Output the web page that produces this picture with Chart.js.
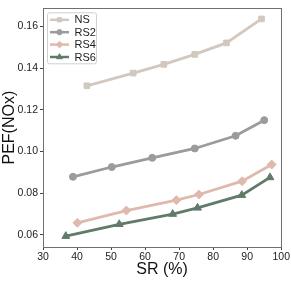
<!DOCTYPE html>
<html>
<head>
<meta charset="utf-8">
<script src="https://cdn.jsdelivr.net/npm/chart.js@4.4.1/dist/chart.umd.min.js"></script>
<style>
  html, body { margin: 0; padding: 0; background: #fff; }
  #wrap { width: 291px; height: 291px; }
</style>
</head>
<body>
<div id="wrap"><canvas id="myChart" width="291" height="291"></canvas></div>
<script>
'use strict';

// データ
const seriesNames = ['NS', 'RS2', 'RS4', 'RS6'];
const nsX  = [42.9, 56.5, 65.5, 74.6, 83.9, 94.2];
const nsY  = [0.1315, 0.1376, 0.1418, 0.1466, 0.1521, 0.1636];
const rs2X = [38.8, 50.2, 62.1, 74.6, 86.6, 95.0];
const rs2Y = [0.0878, 0.0925, 0.0969, 0.1014, 0.1075, 0.1150];
const rs4X = [40.1, 54.5, 69.2, 75.8, 88.5, 97.2];
const rs4Y = [0.0657, 0.0716, 0.0766, 0.0793, 0.0857, 0.0937];
const rs6X = [36.7, 52.4, 68.1, 75.4, 88.4, 96.7];
const rs6Y = [0.0593, 0.0650, 0.0699, 0.0729, 0.0790, 0.0875];
const xTicks = [30, 40, 50, 60, 70, 80, 90, 100];
const yTicks = [0.06, 0.08, 0.10, 0.12, 0.14, 0.16];

const colors = ['#d2c8be', '#9b9b9b', '#e0b9ae', '#617b6a'];
const shapes = ['rect', 'circle', 'rectRot', 'triangle'];
const radii  = [4, 3.5, 4.5, 4.5];

function pts(xs, ys) {
    return xs.map((x, i) => ({ x: x, y: ys[i] }));
}
const allData = [pts(nsX, nsY), pts(rs2X, rs2Y), pts(rs4X, rs4Y), pts(rs6X, rs6Y)];

const FONT = "'Liberation Sans', Arial, sans-serif";

// 枠線と凡例
const framePlugin = {
    id: 'frame',
    afterDraw(chart) {
        const ctx = chart.ctx;
        const a = chart.chartArea;
        ctx.save();
        ctx.strokeStyle = '#707070';
        ctx.lineWidth = 1;
        ctx.strokeRect(Math.round(a.left) + 0.5, Math.round(a.top) + 0.5,
            Math.round(a.right - a.left), Math.round(a.bottom - a.top));

        // legend box
        const lx = a.left + 4.5, ly = a.top + 4.5;
        ctx.strokeStyle = '#d0d0d0';
        ctx.fillStyle = 'rgba(255,255,255,0.85)';
        ctx.beginPath();
        ctx.roundRect(lx, ly, 49, 51, 2);
        ctx.fill();
        ctx.stroke();
        ctx.font = '11px ' + FONT;
        ctx.textBaseline = 'middle';
        seriesNames.forEach((name, i) => {
            const yy = ly + 7 + i * 12.4;
            ctx.strokeStyle = colors[i];
            ctx.lineWidth = 2.5;
            ctx.beginPath();
            ctx.moveTo(lx + 2.5, yy);
            ctx.lineTo(lx + 21.5, yy);
            ctx.stroke();
            ctx.fillStyle = colors[i];
            ctx.strokeStyle = colors[i];
            ctx.lineWidth = 1;
            Chart.helpers.drawPoint(ctx, { pointStyle: shapes[i], radius: radii[i] * 0.75, borderWidth: 1, rotation: 0 }, lx + 12, yy);
            ctx.fillStyle = '#222';
            ctx.fillText(name, lx + 27, yy + 0.5);
        });
        ctx.restore();
    }
};

const config = {
    type: 'line',
    data: {
        datasets: allData.map((d, i) => ({
            label: seriesNames[i],
            data: d,
            borderColor: colors[i],
            backgroundColor: colors[i],
            borderWidth: 2.8,
            pointStyle: shapes[i],
            pointRadius: radii[i],
            pointBorderWidth: 1,
            tension: 0,
            fill: false
        }))
    },
    options: {
        responsive: false,
        animation: false,
        layout: { padding: { top: 8, right: 9, left: 0, bottom: 0 } },
        plugins: {
            legend: { display: false },
            tooltip: { enabled: false }
        },
        scales: {
            x: {
                type: 'linear',
                min: 30,
                max: 100,
                afterFit: s => { s.height = 44; },
                afterBuildTicks: s => { s.ticks = xTicks.map(v => ({ value: v })); },
                grid: { drawOnChartArea: false, tickLength: 3, color: '#444' },
                border: { display: false },
                ticks: { color: '#222', font: { family: FONT, size: 10.5 }, padding: 1, maxRotation: 0 },
                title: { display: true, text: 'SR (%)', color: '#111', font: { family: FONT, size: 16 }, padding: 12 }
            },
            y: {
                type: 'linear',
                min: 0.0541,
                max: 0.1687,
                afterFit: s => { s.width = 43; },
                afterBuildTicks: s => { s.ticks = yTicks.map(v => ({ value: v })); },
                grid: { drawOnChartArea: false, tickLength: 3, color: '#444' },
                border: { display: false },
                ticks: { color: '#222', font: { family: FONT, size: 10.5 }, padding: 2, callback: v => v.toFixed(2) },
                title: { display: true, text: 'PEF(NOx)', color: '#111', font: { family: FONT, size: 16 }, padding: 0 }
            }
        }
    },
    plugins: [framePlugin]
};

const myChart = new Chart(document.getElementById('myChart'), config);
</script>
</body>
</html>
